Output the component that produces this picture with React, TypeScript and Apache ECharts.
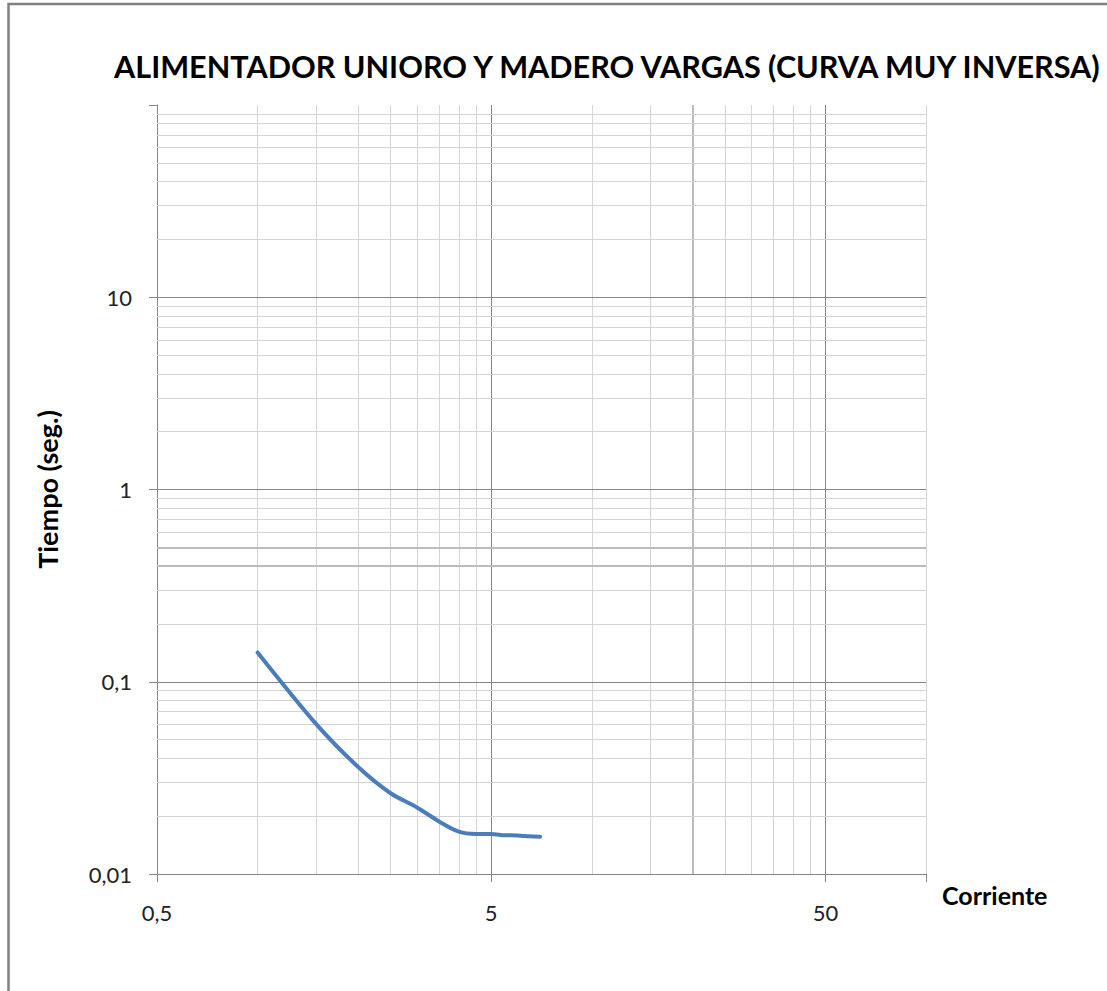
import React, { useEffect, useRef } from "react";
import * as echarts from "echarts";

const TITLE = "ALIMENTADOR UNIORO Y MADERO VARGAS (CURVA MUY INVERSA)";
const X_NAME = "Corriente";
const Y_NAME = "Tiempo (seg.)";

// Curve: current vs time (s)
const CURRENT = [1, 1.5, 2, 2.5, 3, 3.5, 4, 4.5, 5, 5.5, 6, 6.5, 7];
const TIME = [0.142, 0.06, 0.036, 0.0263, 0.0222, 0.0187, 0.0166, 0.01615, 0.01615, 0.0159, 0.01587, 0.0157, 0.01564];

// Axis extents
const X_MIN = 0.5;
const X_MAX = 100;
const Y_MIN = 0.01;
const Y_MAX = 100;

// Gridline values (real units)
const X_MAJOR = [5, 50];
const X_MINOR = [1, 1.5, 2, 2.5, 3, 3.5, 4, 4.5, 10, 15, 25, 30, 35, 40, 45, 100];
const X_EMPH = [20];
const Y_MAJOR = [0.1, 1, 10];
const Y_MINOR = [
  0.02, 0.03, 0.04, 0.05, 0.06, 0.07, 0.08, 0.09,
  0.2, 0.3, 0.6, 0.7, 0.8, 0.9,
  2, 3, 4, 5, 6, 7, 8, 9,
  20, 30, 40, 50, 60, 70, 80, 90,
];
const Y_EMPH = [0.4, 0.5];

const FONT = "Lato";
const MAJOR_COLOR = "#868686";
const MINOR_COLOR = "#d4d4d4";
const EMPH_COLOR = "#bcbcbc";

// The x axis is a log axis whose origin is the first tick (0.5)
const X_BASE = X_MIN;
const toX = (v: number) => v / X_BASE;

const fmt = (v: number) => String(+v.toPrecision(3)).replace(".", ",");

export default function App() {
  const ref = useRef<HTMLDivElement>(null);

  useEffect(() => {
    if (!ref.current) return;
    const chart = echarts.init(ref.current, undefined, { renderer: "svg" });

    const ls = (color: string, width: number) => ({ color, width, type: "solid" as const });
    const gridLines: any[] = [
      ...X_MINOR.map((v) => ({ xAxis: toX(v), lineStyle: ls(MINOR_COLOR, 1) })),
      ...X_EMPH.map((v) => ({ xAxis: toX(v), lineStyle: ls(EMPH_COLOR, 2) })),
      ...X_MAJOR.map((v) => ({ xAxis: toX(v), lineStyle: ls(MAJOR_COLOR, 1) })),
      ...Y_MINOR.map((v) => ({ yAxis: v, lineStyle: ls(MINOR_COLOR, 1) })),
      ...Y_EMPH.map((v) => ({ yAxis: v, lineStyle: ls(EMPH_COLOR, 2) })),
      ...Y_MAJOR.map((v) => ({ yAxis: v, lineStyle: ls(MAJOR_COLOR, 1) })),
    ];

    chart.setOption({
      animation: false,
      backgroundColor: "#ffffff",
      title: {
        text: TITLE,
        left: 109,
        top: 46,
        textStyle: { fontFamily: FONT, fontSize: 30.6, fontWeight: "bold", color: "#000" },
      },
      graphic: [
        {
          type: "rect",
          shape: { x: 8.5, y: 4, width: 1200, height: 1100 },
          style: { fill: "none", stroke: "#808080", lineWidth: 2.5 },
          silent: true,
        },
      ],
      grid: { left: 157, top: 105, width: 769, height: 769, containLabel: false },
      xAxis: {
        type: "log",
        logBase: 10,
        min: toX(X_MIN),
        max: toX(X_MAX),
        name: X_NAME,
        nameLocation: "end",
        nameGap: 16,
        nameTextStyle: {
          fontFamily: FONT,
          fontSize: 25,
          fontWeight: "bold",
          color: "#000",
          align: "left",
          verticalAlign: "top",
          padding: [8, 0, 0, 0],
        },
        axisLine: { show: true, lineStyle: { color: MAJOR_COLOR, width: 1 } },
        axisTick: { show: true, length: 8, lineStyle: { color: MAJOR_COLOR } },
        axisLabel: {
          margin: 27,
          fontFamily: FONT,
          fontSize: 22,
          color: "#222",
          formatter: (v: number) => (v * X_BASE > 60 ? "" : fmt(v * X_BASE)),
        },
        splitLine: { show: false },
        minorTick: { show: false },
      },
      yAxis: {
        type: "log",
        logBase: 10,
        min: Y_MIN,
        max: Y_MAX,
        name: Y_NAME,
        nameLocation: "middle",
        nameRotate: 90,
        nameGap: 96,
        nameTextStyle: { fontFamily: FONT, fontSize: 27, fontWeight: "bold", color: "#000" },
        axisLine: { show: true, lineStyle: { color: MAJOR_COLOR, width: 1 } },
        axisTick: { show: true, length: 8, lineStyle: { color: MAJOR_COLOR } },
        axisLabel: {
          margin: 25,
          fontFamily: FONT,
          fontSize: 22,
          color: "#222",
          formatter: (v: number) => (v >= 99 ? "" : fmt(v)),
        },
        splitLine: { show: false },
        minorTick: { show: false },
      },
      series: [
        {
          type: "line",
          z: 3,
          data: CURRENT.map((c, i) => [toX(c), TIME[i]]),
          smooth: 0.3,
          showSymbol: false,
          symbol: "none",
          lineStyle: { color: "#4A7EBB", width: 4, cap: "round" },
          markLine: {
            z: 1,
            silent: true,
            symbol: ["none", "none"],
            label: { show: false },
            animation: false,
            data: gridLines,
          },
        },
      ],
    });

    return () => chart.dispose();
  }, []);

  return (
    <div
      ref={ref}
      style={{ position: "absolute", left: 0, top: 0, width: 1107, height: 991 }}
    />
  );
}
